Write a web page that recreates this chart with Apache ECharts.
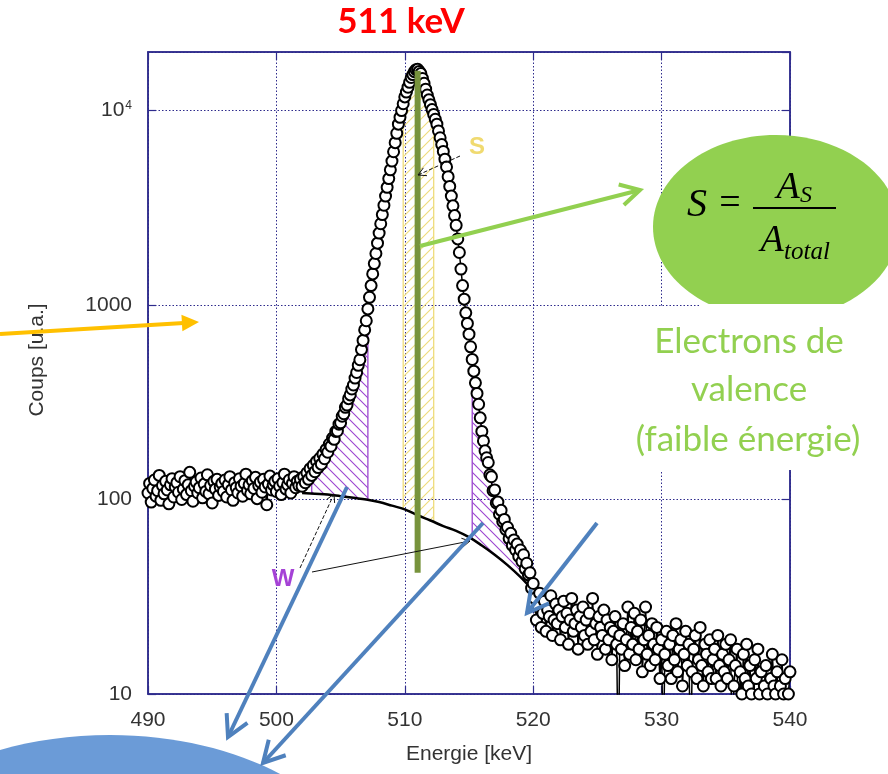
<!DOCTYPE html>
<html>
<head>
<meta charset="utf-8">
<script src="https://cdn.jsdelivr.net/npm/echarts@6/dist/echarts.min.js"></script>
<style>html,body{margin:0;padding:0;background:#fff}#c{width:888px;height:774px}</style>
</head>
<body>
<div id="c"></div>
<script>
// ---------------- DATA ----------------
const ENERGY_START = 490;      // keV, first channel
const ENERGY_STEP = 0.125;     // keV per channel

// 490.000 .. 501.875 keV : flat region
const flatCounts = [
  108,121,97,114,126,104,111,133,99,118,107,124,112,95,119,128,
  103,116,122,109,131,100,113,125,106,119,138,111,98,117,123,108,
  115,129,102,120,110,134,107,118,96,124,113,127,105,116,121,110,
  126,103,119,131,112,99,122,115,108,128,117,104,121,135,111,119,
  107,125,114,130,101,118,123,109,127,116,94,120,132,112,119,124,
  110,128,117,106,122,135,113,119,126,108,121,131,115,124,118,127
];
// 502.000 .. 510.875 keV : rising flank
const leftFlankCounts = [
  117,131,122,137,127,144,133,150,139,157,146,163,152,171,162,181,
  175,193,188,207,204,224,225,244,248,268,276,298,306,330,345,370,
  388,421,450,490,523,590,658,745,830,955,1096,1259,1445,1633,1841,2080,
  2344,2618,2917,3258,3631,4027,4467,4955,5495,6138,6839,7638,8511,9226,10000,10839,
  11749,12445,13183,13964,14791,15311,15849,16218
];
// 511.000 .. 520.000 keV : falling flank
const rightFlankCounts = [
  16293,15886,15488,14622,13804,12882,12023,11350,10715,10116,9550,9016,8511,7852,7244,6683,
  6166,5623,5129,4571,4074,3631,3236,2884,2570,2188,1862,1531,1259,1072,912,804,
  708,610,525,457,398,351,309,263,224,200,178,164,155,134,131,111,
  112,96,97,84,88,77,79,70,72,63,67,58,62,55,59,51,
  55,48,52,44,47,41,42,35,37
];
// 520.125 .. 540.000 keV : tail (values below 10 fall under the axis)
const tailCounts = [
  31,24,28,33,22,26,30,21,27,25,32,20,24,29,23,27,
  19,25,30,22,26,18,24,31,21,23,27,17,25,22,28,20,
  24,18,26,21,31,19,23,16,25,22,20,27,17,24,19,22,
  15,21,25,18,4,20,17,23,14,19,28,16,22,18,26,15,
  21,17,24,13,19,28,16,20,14,23,18,15,22,17,12,19,
  4,16,21,14,18,12,20,15,23,13,17,19,11,16,21,14,
  18,4,13,17,20,12,15,22,14,11,18,16,13,19,12,15,
  17,12,20,14,11,16,13,18,12,15,19,4,11,14,17,4,
  13,10,16,12,18,11,14,10,4,15,12,17,10,13,4,11,
  14,10,4,12,16,11,10,13,4,11,15,10,12,4,10,13
];

// smooth background under the peak
const bgEnergy = [502,503,504,505,506,507,508,509,510,511,512,513,514,515,516,517,518,519,520];
const bgCounts = [108,107,106,104,102,100,97,93,89,83,78,73,69,64,58,52,46,40,34];

// integration windows [from, to] in keV
const wLeftWindow = [502.75, 507.125];
const sWindow = [509.875, 512.25];
const wRightWindow = [515.25, 520.0];

// annihilation line marker
const peakEnergy = 511;
const peakMarkerCounts = [16000, 42];

const xTicks = [490, 500, 510, 520, 530, 540];
const yTicks = [10, 100, 1000, 10000];

// ---------------- BUILD ----------------
const counts = flatCounts.concat(leftFlankCounts, rightFlankCounts, tailCounts);
const spectrum = counts.map((c, i) => [ENERGY_START + i * ENERGY_STEP, c]);
const bgLine = bgEnergy.map((e, i) => [e, bgCounts[i]]);

function bgAt(e) {
  for (let i = 0; i < bgEnergy.length - 1; i++) {
    if (e >= bgEnergy[i] && e <= bgEnergy[i + 1]) {
      const t = (e - bgEnergy[i]) / (bgEnergy[i + 1] - bgEnergy[i]);
      return Math.pow(10, Math.log10(bgCounts[i]) * (1 - t) + Math.log10(bgCounts[i + 1]) * t);
    }
  }
  return bgCounts[bgCounts.length - 1];
}
function regionPolygon(win) {
  const top = spectrum.filter(p => p[0] >= win[0] - 1e-9 && p[0] <= win[1] + 1e-9);
  const bottom = top.slice().reverse().map(p => [p[0], bgAt(p[0])]);
  return top.concat(bottom);
}
function hatch(color, dir) {
  const s = 10, c = document.createElement('canvas');
  c.width = s; c.height = s;
  const g = c.getContext('2d');
  g.strokeStyle = color; g.lineWidth = 1.1;
  g.beginPath();
  if (dir === 'back') {
    g.moveTo(-1, -1); g.lineTo(s + 1, s + 1);
    g.moveTo(-1, s - 1); g.lineTo(1, s + 1);
    g.moveTo(s - 1, -1); g.lineTo(s + 1, 1);
  } else {
    g.moveTo(-1, s + 1); g.lineTo(s + 1, -1);
    g.moveTo(-1, 1); g.lineTo(1, -1);
    g.moveTo(s - 1, s + 1); g.lineTo(s + 1, s - 1);
  }
  g.stroke();
  return c;
}
const PURPLE = '#9b45cf', YELLOW = '#efdc7c';
const purplePattern = { image: hatch(PURPLE, 'back'), repeat: 'repeat' };
const yellowPattern = { image: hatch(YELLOW, 'fwd'), repeat: 'repeat' };

function regionSeries(win, fill, stroke) {
  const poly = regionPolygon(win);
  return {
    type: 'custom', coordinateSystem: 'cartesian2d', silent: true, z: 2,
    data: [[win[0], 100]],
    renderItem: (params, api) => ({
      type: 'polygon',
      shape: { points: poly.map(p => api.coord(p)) },
      style: { fill: fill, stroke: stroke, lineWidth: 1.3 }
    })
  };
}

function arrow(x1, y1, x2, y2, color, width, head, filled, dash) {
  const a = Math.atan2(y2 - y1, x2 - x1);
  const sp = filled ? 0.45 : 0.5;
  const p1 = [x2 - head * Math.cos(a - sp), y2 - head * Math.sin(a - sp)];
  const p2 = [x2 - head * Math.cos(a + sp), y2 - head * Math.sin(a + sp)];
  const els = [];
  const endX = filled ? x2 - head * 0.8 * Math.cos(a) : x2;
  const endY = filled ? y2 - head * 0.8 * Math.sin(a) : y2;
  els.push({ type: 'line', z: 200, shape: { x1, y1, x2: endX, y2: endY },
    style: { stroke: color, lineWidth: width, lineDash: dash || null, lineCap: 'butt' } });
  if (filled) {
    els.push({ type: 'polygon', z: 200, shape: { points: [[x2, y2], p1, p2] }, style: { fill: color } });
  } else {
    els.push({ type: 'polyline', z: 200, shape: { points: [p1, [x2, y2], p2] },
      style: { stroke: color, lineWidth: width, fill: null, lineJoin: 'miter' } });
  }
  return els;
}

const NAVY = '#2e2b8c';
const LABEL = '#333333';
const AXFONT = 'Liberation Sans';

const chart = echarts.init(document.getElementById('c'), null, { renderer: 'canvas' });

const graphics = [].concat(
  [
    { type: 'ellipse', z: 150, shape: { cx: 110, cy: 895, rx: 260, ry: 160 }, style: { fill: '#6b9bd7' } },
    { type: 'ellipse', z: 150, shape: { cx: 776, cy: 227, rx: 123, ry: 92 }, style: { fill: '#92d050' } },
    { type: 'rect', z: 151, shape: { x: 700, y: 304, width: 188, height: 3 }, style: { fill: '#ffffff' } },
    { type: 'rect', z: 151, shape: { x: 598, y: 307, width: 290, height: 163 }, style: { fill: '#ffffff' } },
    { type: 'text', z: 160, style: { text: 'S', x: 697, y: 205, textAlign: 'center', textVerticalAlign: 'middle', font: 'italic 40px "Liberation Serif"', fill: '#000' } },
    { type: 'text', z: 160, style: { text: '=', x: 730, y: 204, textAlign: 'center', textVerticalAlign: 'middle', font: '38px "Liberation Serif"', fill: '#000' } },
    { type: 'line', z: 160, shape: { x1: 753, y1: 208, x2: 836, y2: 208 }, style: { stroke: '#000', lineWidth: 2 } },
    { type: 'text', z: 160, style: { text: 'A', x: 788, y: 188, textAlign: 'center', textVerticalAlign: 'middle', font: 'italic 38px "Liberation Serif"', fill: '#000' } },
    { type: 'text', z: 160, style: { text: 'S', x: 806, y: 196, textAlign: 'center', textVerticalAlign: 'middle', font: 'italic 24px "Liberation Serif"', fill: '#000' } },
    { type: 'text', z: 160, style: { text: 'A', x: 772, y: 241, textAlign: 'center', textVerticalAlign: 'middle', font: 'italic 38px "Liberation Serif"', fill: '#000' } },
    { type: 'text', z: 160, style: { text: 'total', x: 807, y: 252, textAlign: 'center', textVerticalAlign: 'middle', font: 'italic 25px "Liberation Serif"', fill: '#000' } },
    { type: 'text', z: 160, style: { text: 'Electrons de', x: 749, y: 342, textAlign: 'center', textVerticalAlign: 'middle', font: '35px Lato', fill: '#92d050' } },
    { type: 'text', z: 160, style: { text: 'valence', x: 749, y: 390, textAlign: 'center', textVerticalAlign: 'middle', font: '35px Lato', fill: '#92d050' } },
    { type: 'text', z: 160, style: { text: '(faible énergie)', x: 748, y: 440, textAlign: 'center', textVerticalAlign: 'middle', font: '35px Lato', fill: '#92d050' } },
    { type: 'text', z: 160, style: { text: '511 keV', x: 401, y: 22, textAlign: 'center', textVerticalAlign: 'middle', font: 'bold 35px Lato', fill: '#ff0000' } },
    { type: 'text', z: 160, style: { text: 'W', x: 283, y: 579, textAlign: 'center', textVerticalAlign: 'middle', font: 'bold 24px "Liberation Sans"', fill: '#a542d6' } },
    { type: 'text', z: 160, style: { text: 'S', x: 477, y: 147, textAlign: 'center', textVerticalAlign: 'middle', font: 'bold 24px "Liberation Sans"', fill: '#f0da70' } }
  ],
  arrow(300, 568, 334, 494, '#111', 1, 9, false, [4, 2]),
  arrow(312, 572, 470, 541, '#111', 1, 9, false),
  arrow(460, 156, 418, 175, '#111', 1, 9, false, [4, 2]),
  arrow(420, 246, 640, 190, '#92d050', 4, 22, false),
  arrow(0, 334, 199, 322, '#ffc000', 4, 19, true),
  arrow(347, 487, 228, 737, '#4f81bd', 4, 24, false),
  arrow(483, 523, 263, 763, '#4f81bd', 4, 24, false),
  arrow(597, 523, 527, 613, '#4f81bd', 4, 24, false)
);

const option = {
  animation: false,
  backgroundColor: '#ffffff',
  grid: { left: 148, right: 98, top: 52, bottom: 80, show: true, borderColor: NAVY, borderWidth: 1.5 },
  xAxis: [
    {
      type: 'value', min: xTicks[0], max: xTicks[xTicks.length - 1], interval: 10, position: 'bottom',
      axisLine: { show: true, lineStyle: { color: NAVY, width: 1.5 } },
      axisTick: { show: true, inside: true, length: 8, lineStyle: { color: NAVY, width: 1.2 } },
      axisLabel: { color: LABEL, fontSize: 21, fontFamily: AXFONT, margin: 16 },
      splitLine: { show: true, lineStyle: { color: NAVY, type: [1.5, 2], width: 1 } },
      name: 'Energie [keV]', nameLocation: 'middle', nameGap: 50,
      nameTextStyle: { color: LABEL, fontSize: 21, fontFamily: AXFONT }
    },
    {
      type: 'value', min: xTicks[0], max: xTicks[xTicks.length - 1], interval: 10, position: 'top',
      axisLine: { show: true, lineStyle: { color: NAVY, width: 1.5 } },
      axisTick: { show: true, inside: true, length: 8, lineStyle: { color: NAVY, width: 1.2 } },
      axisLabel: { show: false }, splitLine: { show: false }
    }
  ],
  yAxis: [
    {
      type: 'log', logBase: 10, min: yTicks[0], max: 20000, position: 'left',
      axisLine: { show: true, lineStyle: { color: NAVY, width: 1.5 } },
      axisTick: { show: true, inside: true, length: 8, lineStyle: { color: NAVY, width: 1.2 } },
      axisLabel: {
        color: LABEL, fontSize: 21, fontFamily: AXFONT, margin: 16, showMaxLabel: false,
        formatter: v => {
          const r = Math.round(v);
          if (yTicks.indexOf(r) < 0) return '';
          return r === 10000 ? '{m|10}{s|4}' : String(r);
        },
        rich: {
          m: { fontSize: 21, fontFamily: AXFONT, color: LABEL },
          s: { fontSize: 12, fontFamily: AXFONT, color: LABEL, verticalAlign: 'top', padding: [0, 0, 10, 1] }
        }
      },
      splitLine: { show: true, lineStyle: { color: NAVY, type: [1.5, 2], width: 1 } },
      name: 'Coups [u.a.]', nameLocation: 'middle', nameGap: 100, nameRotate: 90,
      nameTextStyle: { color: LABEL, fontSize: 21, fontFamily: AXFONT, padding: [0, 0, 0, 26] }
    },
    {
      type: 'log', logBase: 10, min: yTicks[0], max: 20000, position: 'right',
      axisLine: { show: true, lineStyle: { color: NAVY, width: 1.5 } },
      axisTick: { show: true, inside: true, length: 8, lineStyle: { color: NAVY, width: 1.2 } },
      axisLabel: { show: false }, splitLine: { show: false }
    }
  ],
  series: [
    regionSeries(wLeftWindow, purplePattern, PURPLE),
    regionSeries(wRightWindow, purplePattern, PURPLE),
    regionSeries(sWindow, yellowPattern, YELLOW),
    {
      type: 'line', data: bgLine, smooth: 0.4, symbol: 'none', z: 3, silent: true,
      lineStyle: { color: '#000', width: 2.5 }
    },
    {
      type: 'line', data: spectrum, symbol: 'emptyCircle', symbolSize: 11, z: 4, silent: true,
      itemStyle: { color: '#000', borderWidth: 1.9 },
      lineStyle: { color: '#000', width: 1.5 }
    },
    {
      type: 'line', data: peakMarkerCounts.map(c => [peakEnergy, c]), symbol: 'none', z: 10, silent: true,
      lineStyle: { color: '#77933c', width: 6 }
    }
  ],
  graphic: graphics
};
chart.setOption(option);
</script>
</body>
</html>
